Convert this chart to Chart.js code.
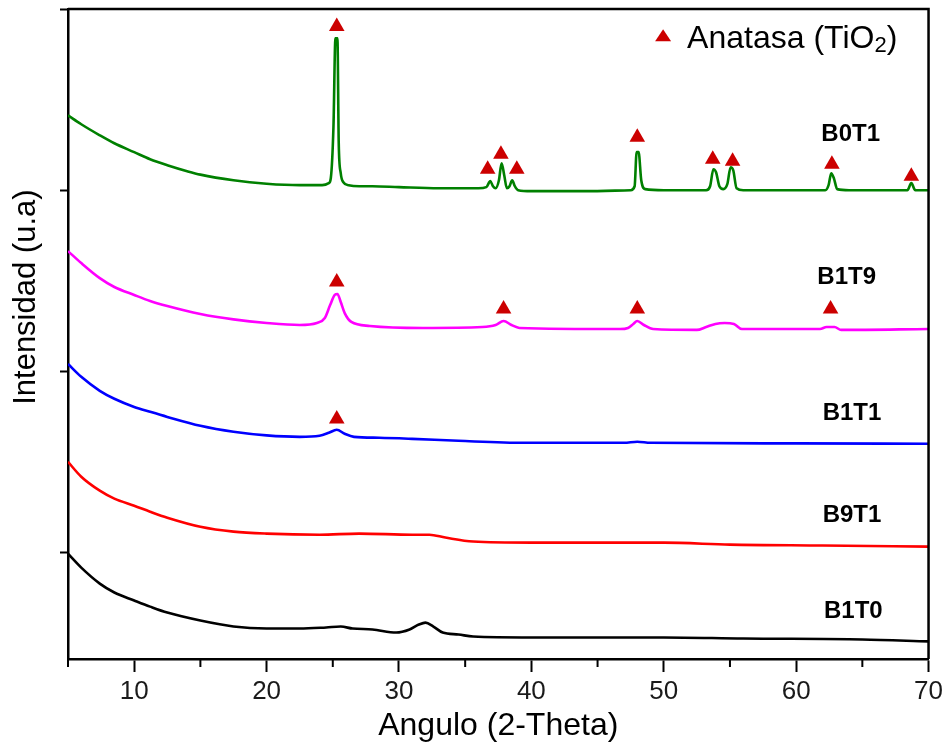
<!DOCTYPE html>
<html>
<head>
<meta charset="utf-8">
<script src="https://cdn.jsdelivr.net/npm/chart.js@4"></script>
<style>
  html, body { margin: 0; padding: 0; background: #fff; }
  canvas { display: block; }
</style>
</head>
<body>
<canvas id="xrd" width="947" height="747"></canvas>
<script>
// 2-theta positions and intensities (u.a., stacked)
const angleB0T1 = [5.0, 6.0, 7.4, 8.5, 10.0, 11.2, 12.5, 14.0, 15.0, 17.5, 20.0, 22.5, 24.2, 24.7, 24.85,
    25.05, 25.2, 25.35, 25.45, 25.6, 25.8, 26.2, 27.0, 28.0, 30.0, 33.0, 36.0, 36.6, 36.9, 37.1,
    37.3, 37.55, 37.75, 37.95, 38.15, 38.35, 38.55, 38.75, 39.0, 40.0, 44.0, 47.5, 47.8, 47.95, 48.1,
    48.3, 48.6, 50.0, 53.2, 53.5, 53.75, 53.95, 54.2, 54.5, 54.8, 55.05, 55.25, 55.5, 56.0, 62.2,
    62.45, 62.65, 62.85, 63.1, 64.0, 68.4, 68.7, 69.0, 70.0];
const intB0T1 = [3413, 3364, 3303, 3259, 3210, 3171, 3138, 3105, 3086, 3055, 3036, 3028, 3028, 3039, 3066,
    3347, 3838, 3838, 3259, 3094, 3044, 3028, 3022, 3022, 3017, 3011, 3011, 3017, 3050, 3022,
    3011, 3055, 3149, 3083, 3011, 3022, 3055, 3022, 3000, 2995, 2995, 3000, 3022, 3210, 3210,
    3055, 3006, 3000, 3000, 3022, 3116, 3099, 3022, 3006, 3033, 3127, 3110, 3011, 3000, 3000,
    3028, 3094, 3066, 3006, 3000, 3000, 3039, 3000, 3000];

const angleB1T9 = [5.0, 6.0, 7.4, 8.5, 10.0, 11.2, 12.5, 15.0, 17.5, 20.0, 22.5, 23.8, 24.4, 24.8, 25.15,
    25.35, 25.6, 25.9, 26.4, 27.8, 31.8, 36.3, 37.3, 37.9, 38.5, 39.1, 46.7, 47.3, 47.7, 48.0,
    48.5, 49.2, 52.5, 53.2, 53.9, 54.6, 55.3, 55.9, 61.8, 62.3, 62.9, 63.4, 70.0];
const intB1T9 = [2664, 2598, 2515, 2466, 2422, 2389, 2361, 2317, 2287, 2267, 2256, 2267, 2295, 2366, 2422,
    2427, 2383, 2322, 2273, 2251, 2240, 2245, 2256, 2278, 2256, 2240, 2234, 2240, 2262, 2278,
    2256, 2234, 2229, 2245, 2262, 2267, 2262, 2234, 2234, 2245, 2245, 2229, 2234];

const angleB1T1 = [5.0, 6.0, 7.4, 8.5, 10.0, 11.2, 12.5, 15.0, 17.5, 20.0, 22.5, 24.0, 24.7, 25.3, 25.9,
    26.6, 28.5, 31.0, 34.5, 39.5, 47.0, 48.0, 49.0, 60.0, 70.0];
const intB1T1 = [2041, 1970, 1893, 1849, 1804, 1777, 1749, 1700, 1667, 1647, 1639, 1645, 1661, 1678, 1656,
    1639, 1634, 1628, 1617, 1606, 1606, 1612, 1606, 1603, 1601];

const angleB9T1 = [5.0, 6.0, 7.4, 8.5, 10.0, 11.2, 12.5, 15.0, 17.5, 20.0, 24.0, 27.0, 31.0, 32.3, 33.5,
    35.6, 40.0, 50.0, 55.0, 62.0, 70.0];
const intB9T1 = [1501, 1419, 1342, 1298, 1259, 1226, 1193, 1143, 1116, 1105, 1099, 1105, 1099, 1099, 1083,
    1061, 1055, 1055, 1044, 1039, 1033];

const angleB1T0 = [5.0, 6.0, 7.4, 8.5, 10.0, 11.2, 12.5, 15.0, 17.5, 20.0, 22.5, 24.5, 25.6, 26.5, 28.0,
    29.8, 30.8, 31.5, 32.0, 32.6, 33.3, 34.5, 35.6, 40.0, 50.0, 56.0, 65.0, 70.0];
const intB1T0 = [994, 917, 829, 780, 736, 702, 669, 625, 592, 581, 581, 587, 592, 581, 576,
    559, 576, 603, 614, 592, 559, 548, 537, 532, 532, 526, 521, 510];

// anatase reflections (triangle markers)
const markAngle = [25.3, 36.7, 37.7, 38.9, 48.0, 53.7, 55.2, 62.7, 68.7, 25.3, 37.9, 48.0, 62.6, 25.3];
const markInt = [3904, 3116, 3198, 3116, 3292, 3171, 3160, 3143, 3077, 2493, 2344, 2344, 2344, 1738];

const xTicks = [10, 20, 30, 40, 50, 60, 70];
const yTicks = [1000, 2000, 3000, 4000];

const FONT = 'Arial, "Liberation Sans", sans-serif';

function toPoints(xs, ys) {
    return xs.map((x, i) => ({ x: x, y: ys[i] }));
}

function curve(label, xs, ys, color) {
    return {
        label: label,
        data: toPoints(xs, ys),
        showLine: true,
        borderColor: color,
        backgroundColor: color,
        borderWidth: 2.6,
        pointRadius: 0,
        cubicInterpolationMode: 'monotone'
    };
}

// frame, minor ticks, sample names, legend and y title
const decorations = {
    id: 'decorations',
    afterDraw(chart) {
        const { ctx, chartArea: a, scales } = chart;
        const sx = scales.x, sy = scales.y;
        ctx.save();

        // top and right frame lines
        ctx.strokeStyle = '#000';
        ctx.lineWidth = 2.5;
        ctx.beginPath();
        ctx.moveTo(a.left, a.top);
        ctx.lineTo(a.right, a.top);
        ctx.lineTo(a.right, a.bottom);
        ctx.stroke();

        // minor x ticks (5, 15, ...)
        ctx.lineWidth = 2;
        for (let v = 5; v < 70; v += 10) {
            const px = sx.getPixelForValue(v);
            ctx.beginPath();
            ctx.moveTo(px, a.bottom);
            ctx.lineTo(px, a.bottom + 8);
            ctx.stroke();
        }

        // sample names
        ctx.fillStyle = '#000';
        ctx.font = 'bold 24px ' + FONT;
        ctx.textBaseline = 'middle';
        ctx.textAlign = 'left';
        [['B0T1', 61.9, 3309], ['B1T9', 61.6, 2521], ['B1T1', 62.0, 1771],
         ['B9T1', 62.0, 1204], ['B1T0', 62.1, 675]].forEach(([t, x, y]) => {
            ctx.fillText(t, sx.getPixelForValue(x), sy.getPixelForValue(y));
        });

        // legend
        const lx = sx.getPixelForValue(49.95), ly = sy.getPixelForValue(3850);
        ctx.fillStyle = '#cc0000';
        ctx.beginPath();
        ctx.moveTo(lx, ly - 7);
        ctx.lineTo(lx + 8, ly + 5);
        ctx.lineTo(lx - 8, ly + 5);
        ctx.closePath();
        ctx.fill();
        ctx.fillStyle = '#000';
        ctx.textBaseline = 'alphabetic';
        ctx.font = '32px ' + FONT;
        let tx = lx + 24;
        const base = ly + 12;
        ctx.fillText('Anatasa (TiO', tx, base);
        tx += ctx.measureText('Anatasa (TiO').width;
        ctx.font = '22px ' + FONT;
        ctx.fillText('2', tx, base + 4);
        tx += ctx.measureText('2').width;
        ctx.font = '32px ' + FONT;
        ctx.fillText(')', tx, base);

        // y axis title
        ctx.translate(26, sy.getPixelForValue(2410));
        ctx.rotate(-Math.PI / 2);
        ctx.textAlign = 'center';
        ctx.textBaseline = 'middle';
        ctx.font = '31px ' + FONT;
        ctx.fillText('Intensidad (u.a)', 0, 0);
        ctx.restore();
    }
};

new Chart(document.getElementById('xrd'), {
    type: 'scatter',
    data: {
        datasets: [
            curve('B0T1', angleB0T1, intB0T1, '#008000'),
            curve('B1T9', angleB1T9, intB1T9, '#ff00ff'),
            curve('B1T1', angleB1T1, intB1T1, '#0000ff'),
            curve('B9T1', angleB9T1, intB9T1, '#ff0000'),
            curve('B1T0', angleB1T0, intB1T0, '#000000'),
            {
                label: 'Anatasa (TiO2)',
                data: toPoints(markAngle, markInt),
                showLine: false,
                pointStyle: 'triangle',
                pointRadius: 9,
                backgroundColor: '#cc0000',
                borderColor: '#cc0000',
                borderWidth: 0
            }
        ]
    },
    options: {
        responsive: false,
        animation: false,
        devicePixelRatio: 1,
        layout: { padding: { top: 8, right: 18, left: 0, bottom: 0 } },
        plugins: {
            legend: { display: false },
            tooltip: { enabled: false }
        },
        scales: {
            x: {
                type: 'linear',
                min: 5,
                max: 70,
                afterBuildTicks: (axis) => { axis.ticks = xTicks.map(v => ({ value: v })); },
                afterFit: (scale) => { scale.height = 88; },
                ticks: {
                    color: '#1a1a1a',
                    font: { size: 26, family: FONT },
                    padding: 4,
                    maxRotation: 0
                },
                grid: {
                    drawOnChartArea: false,
                    drawTicks: true,
                    tickLength: 13,
                    tickWidth: 2,
                    tickColor: '#000'
                },
                border: { color: '#000', width: 2.5 },
                title: {
                    display: true,
                    text: 'Angulo (2-Theta)',
                    color: '#000',
                    font: { size: 32, family: FONT },
                    padding: { top: 0, bottom: 2 }
                }
            },
            y: {
                type: 'linear',
                min: 413,
                max: 4000,
                afterBuildTicks: (axis) => { axis.ticks = yTicks.map(v => ({ value: v })); },
                afterFit: (scale) => { scale.width = 68; },
                ticks: { display: false },
                grid: {
                    drawOnChartArea: false,
                    drawTicks: true,
                    tickLength: 8,
                    tickWidth: 2,
                    tickColor: '#000'
                },
                border: { color: '#000', width: 2.5 }
            }
        }
    },
    plugins: [decorations]
});
</script>
</body>
</html>
